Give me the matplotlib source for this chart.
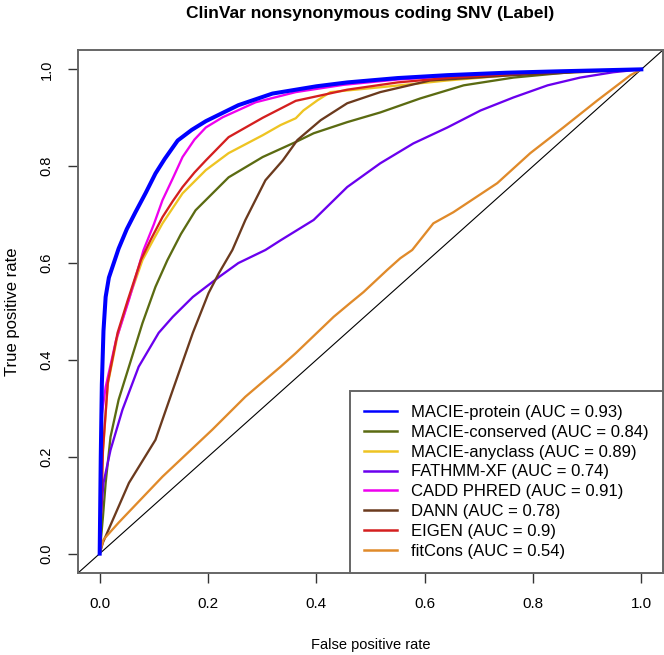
import matplotlib
matplotlib.use('Agg')
import matplotlib.pyplot as plt

plt.rcParams['font.family'] = ['Liberation Sans', 'DejaVu Sans']

# ROC curves (false positive rate, true positive rate)
protein_fpr = [0, 0.002, 0.004, 0.007, 0.011, 0.017, 0.026, 0.035, 0.05, 0.066, 0.085, 0.103, 0.12,
               0.144, 0.17, 0.196, 0.256, 0.319, 0.4, 0.457, 0.55, 0.642, 0.75, 0.85, 1.0]
protein_tpr = [0, 0.2, 0.35, 0.46, 0.53, 0.57, 0.6, 0.63, 0.67, 0.705, 0.745, 0.785, 0.815,
               0.853, 0.875, 0.893, 0.926, 0.95, 0.965, 0.973, 0.982, 0.988, 0.993, 0.996, 1.0]

conserved_fpr = [0, 0.006, 0.011, 0.02, 0.035, 0.054, 0.079, 0.103, 0.125, 0.15, 0.177, 0.238, 0.301,
                 0.362, 0.395, 0.457, 0.518, 0.592, 0.672, 0.764, 0.887, 1.0]
conserved_tpr = [0, 0.076, 0.146, 0.241, 0.318, 0.386, 0.476, 0.551, 0.606, 0.66, 0.709, 0.777, 0.819,
                 0.85, 0.868, 0.891, 0.911, 0.94, 0.967, 0.983, 0.996, 1.0]

anyclass_fpr = [0, 0.003, 0.006, 0.015, 0.033, 0.052, 0.079, 0.1, 0.116, 0.153, 0.196, 0.238, 0.301,
                0.334, 0.362, 0.376, 0.402, 0.426, 0.518, 0.642, 0.8, 1.0]
anyclass_tpr = [0, 0.1, 0.21, 0.35, 0.45, 0.52, 0.606, 0.65, 0.682, 0.744, 0.792, 0.827, 0.864,
                0.885, 0.899, 0.915, 0.936, 0.953, 0.963, 0.977, 0.992, 1.0]

fathmm_fpr = [0, 0.002, 0.007, 0.02, 0.042, 0.072, 0.109, 0.135, 0.172, 0.22, 0.256, 0.306, 0.334,
              0.395, 0.457, 0.518, 0.579, 0.642, 0.703, 0.764, 0.827, 0.887, 0.948, 1.0]
fathmm_tpr = [0, 0.076, 0.146, 0.214, 0.297, 0.386, 0.456, 0.489, 0.53, 0.571, 0.6, 0.627, 0.647,
              0.689, 0.757, 0.806, 0.847, 0.88, 0.915, 0.942, 0.967, 0.983, 0.994, 1.0]

cadd_fpr = [0, 0.003, 0.011, 0.03, 0.054, 0.081, 0.1, 0.116, 0.135, 0.153, 0.175, 0.196, 0.227,
            0.288, 0.362, 0.45, 0.55, 0.65, 0.8, 1.0]
cadd_tpr = [0, 0.28, 0.344, 0.44, 0.524, 0.627, 0.68, 0.73, 0.775, 0.819, 0.855, 0.88, 0.901,
            0.932, 0.953, 0.968, 0.979, 0.986, 0.994, 1.0]

dann_fpr = [0, 0.006, 0.054, 0.103, 0.135, 0.172, 0.201, 0.22, 0.245, 0.269, 0.306, 0.338, 0.365,
            0.408, 0.457, 0.518, 0.61, 0.764, 1.0]
dann_tpr = [0, 0.023, 0.146, 0.235, 0.338, 0.456, 0.538, 0.579, 0.627, 0.689, 0.771, 0.812, 0.854,
            0.895, 0.93, 0.953, 0.977, 0.988, 1.0]

eigen_fpr = [0, 0.003, 0.006, 0.015, 0.033, 0.052, 0.076, 0.095, 0.116, 0.135, 0.153, 0.175, 0.196,
             0.238, 0.301, 0.362, 0.457, 0.55, 0.65, 0.8, 1.0]
eigen_tpr = [0, 0.1, 0.214, 0.353, 0.456, 0.524, 0.606, 0.65, 0.695, 0.728, 0.757, 0.787, 0.812,
             0.86, 0.9, 0.935, 0.958, 0.973, 0.983, 0.993, 1.0]

fitcons_fpr = [0, 0.007, 0.035, 0.116, 0.208, 0.269, 0.334, 0.362, 0.432, 0.463, 0.487, 0.531, 0.555,
               0.577, 0.616, 0.653, 0.734, 0.795, 0.856, 0.919, 0.98, 1.0]
fitcons_tpr = [0, 0.029, 0.064, 0.159, 0.256, 0.324, 0.386, 0.414, 0.489, 0.518, 0.54, 0.586, 0.61,
               0.627, 0.682, 0.705, 0.765, 0.827, 0.88, 0.936, 0.988, 1.0]

labels = ['MACIE-protein (AUC = 0.93)', 'MACIE-conserved (AUC = 0.84)', 'MACIE-anyclass (AUC = 0.89)',
          'FATHMM-XF (AUC = 0.74)', 'CADD PHRED (AUC = 0.91)', 'DANN (AUC = 0.78)',
          'EIGEN (AUC = 0.9)', 'fitCons (AUC = 0.54)']
colors = ['#0000FF', '#5B6B12', '#EEC422', '#6A00EE', '#EE00EE', '#6B3A1E', '#D41F1F', '#E08A2A']
curves = [(protein_fpr, protein_tpr), (conserved_fpr, conserved_tpr), (anyclass_fpr, anyclass_tpr),
          (fathmm_fpr, fathmm_tpr), (cadd_fpr, cadd_tpr), (dann_fpr, dann_tpr),
          (eigen_fpr, eigen_tpr), (fitcons_fpr, fitcons_tpr)]

fig = plt.figure(figsize=(6.64, 6.55), dpi=100)
ax = fig.add_axes([0.1175, 0.1252, 0.881, 0.7985])

for i, (fpr, tpr) in enumerate(curves):
    lw = 2.9 if i == 0 else 1.65
    z = 5 if i == 0 else 3
    ax.plot(fpr, tpr, color=colors[i], lw=lw, label=labels[i], zorder=z)

ax.axline((0, 0), slope=1, color='black', lw=0.8, zorder=2)

ax.set_xlim(-0.04, 1.04)
ax.set_ylim(-0.04, 1.04)
ticks = [0.0, 0.2, 0.4, 0.6, 0.8, 1.0]
ax.set_xticks(ticks)
ax.set_yticks(ticks)
ax.set_xticklabels([f'{t:.1f}' for t in ticks], fontsize=11)
ax.set_yticklabels([f'{t:.1f}' for t in ticks], fontsize=10.5, rotation=90, va='center')
ax.tick_params(direction='out', length=7.5, width=1, color='#333333', pad=10)
for s in ax.spines.values():
    s.set_color('#666666')
    s.set_linewidth(1.4)

ax.set_xlabel('False positive rate', fontsize=10.5, labelpad=19)
ax.set_ylabel('True positive rate', fontsize=12, labelpad=14)
ax.set_title('ClinVar nonsynonymous coding SNV (Label)', fontsize=12.5, fontweight='bold', pad=23)

leg = ax.legend(loc='lower right', fontsize=12, borderaxespad=0, fancybox=False, framealpha=1,
                handlelength=2.0, handletextpad=0.85, labelspacing=0.29, borderpad=0.85)
leg.get_frame().set_edgecolor('#666666')
leg.get_frame().set_linewidth(1.4)
for line in leg.get_lines():
    line.set_linewidth(1.8)

fig.savefig('out.png', dpi=100)
